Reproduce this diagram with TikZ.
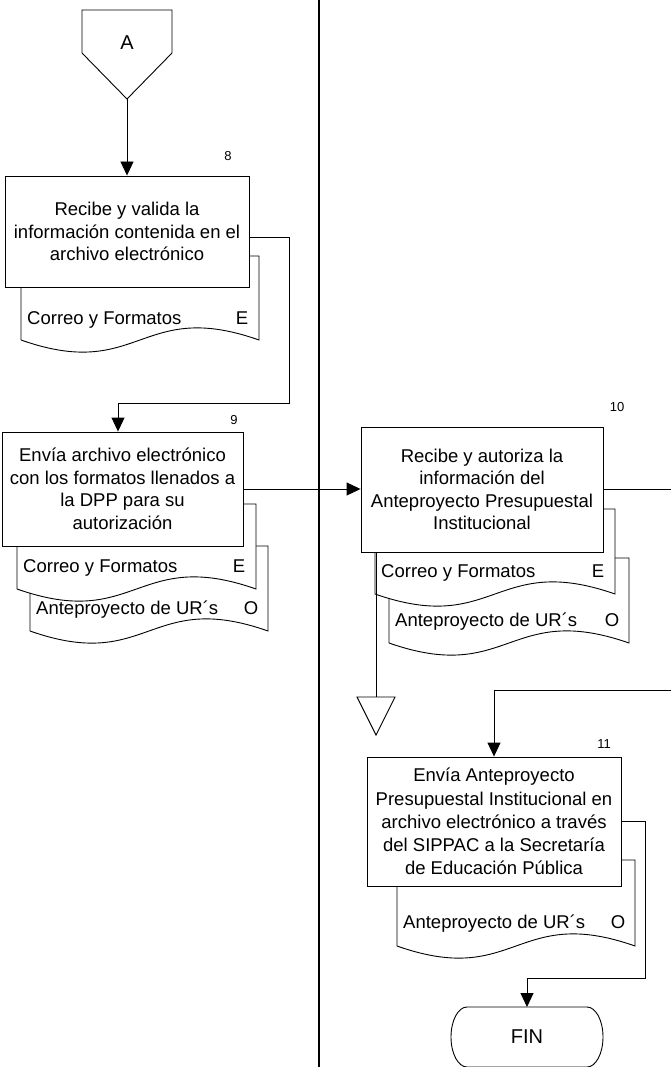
\documentclass[tikz,border=0pt]{standalone}
\usepackage{fontspec}
\setmainfont{Liberation Sans}
\usetikzlibrary{arrows.meta}

% document sheet with a wavy lower edge: name, left, top, right, lower-end y, text, code letter
\newcommand{\docsheet}[7]{%
  \draw[sheet] (#2,#3) -- (#4,#3) -- (#4,#5)
    .. controls ({(#2+#4)/2},{#5-42}) and ({(#2+#4)/2},{#5+42}) .. (#2,#5) -- cycle;
  \node[anchor=base west] (#1) at ({#2+6},{#3+68.6}) {#6};
  \node[anchor=base] (#1-code) at ({#4-17},{#3+68.6}) {#7};
}

\tikzset{
  every node/.style={inner sep=0pt, font=\fontsize{18.5}{22.5}\selectfont},
  thin line/.style={line width=0.9pt, draw=black},
  sheet/.style={thin line, fill=white},
  procbox/.style={thin line, fill=white, align=center, inner sep=0pt},
  steplabel/.style={font=\fontsize{13}{15}\selectfont},
  bigtext/.style={font=\fontsize{20}{24}\selectfont},
  flow/.style={thin line, -{Triangle[length=14pt,width=13pt]}},
  lane/.style={line width=2.3pt, draw=black}
}

\begin{document}
\begin{tikzpicture}[x=1pt,y=-1pt]
\useasboundingbox (0,0) rectangle (671,1067);
\fill[white] (0,0) rectangle (671,1067);

% swimlane divider
\draw[lane] (319,0) -- (319,1067);

% on-page connector A
\draw[sheet] (82,10) -- (172,10) -- (172,53) -- (127,99) -- (82,53) -- cycle;
\node[bigtext] (conA) at (127,43) {A};
\coordinate (conAtip) at (127,99);

% documents (rear sheets first)
\docsheet{d8}{21}{256}{259}{340}{Correo y Formatos}{E}
\docsheet{d9b}{30}{546}{268}{631}{Anteproyecto de UR´s}{O}
\docsheet{d9a}{17}{504}{256}{589}{Correo y Formatos}{E}
\docsheet{d10b}{389}{558}{629}{643}{Anteproyecto de UR´s}{O}
\docsheet{d10a}{375}{509}{615}{594}{Correo y Formatos}{E}
\docsheet{d11}{397}{860}{635}{946}{Anteproyecto de UR´s}{O}

% process steps
\node[procbox, minimum width=244pt, minimum height=111pt] (b8) at (127,231.5)
  {Recibe y valida la\\información contenida en el\\archivo electrónico};
\node[procbox, minimum width=241pt, minimum height=114pt] (b9) at (122.5,489)
  {Envía archivo electrónico\\con los formatos llenados a\\la DPP para su\\autorización};
\node[procbox, minimum width=242pt, minimum height=125pt] (b10) at (482,489.5)
  {Recibe y autoriza la\\información del\\Anteproyecto Presupuestal\\Institucional};
\node[procbox, minimum width=254pt, minimum height=129pt,
      font=\fontsize{18.5}{23.2}\selectfont] (b11) at (494,821.5)
  {Envía Anteproyecto\\Presupuestal Institucional en\\archivo electrónico a través\\del SIPPAC a la Secretaría\\de Educación Pública};

% step numbers
\node[steplabel] (n8) at (228,156) {8};
\node[steplabel] (n9) at (234,420) {9};
\node[steplabel] (n10) at (617,407) {10};
\node[steplabel] (n11) at (604,744) {11};

% terminator
\draw[thin line, fill=white] (467,1007) -- (587,1007)
  arc[start angle=90, end angle=-90, x radius=16pt, y radius=30pt]
  -- (467,1067)
  arc[start angle=270, end angle=90, x radius=16pt, y radius=30pt] -- cycle;
\node[bigtext] (fin) at (527,1037) {FIN};
\coordinate (fintop) at (527,1007);

% off-page connector
\coordinate (offtop) at (376,697);
\draw[sheet] (357,697) -- (395,697) -- (376,735) -- cycle;

% page-edge ends of connectors
\coordinate (exit10) at (671,489.5);
\coordinate (entry11) at (671,690);

% flow lines
\draw[flow] (conAtip) -- (b8.north);
\draw[flow] ([yshift=-5.5pt]b8.east) -| (289,403) -| ([xshift=-4.5pt]b9.north);
\draw[flow] (b9.east) -- (b9.east -| b10.west);
\draw[thin line] (b10.east) -- (exit10);
\draw[thin line] (offtop |- b10.south) -- (offtop);
\draw[flow] (entry11) -| (b11.north);
\draw[flow] (b11.east) -| (645,978) -| (fintop);
\end{tikzpicture}
\end{document}
